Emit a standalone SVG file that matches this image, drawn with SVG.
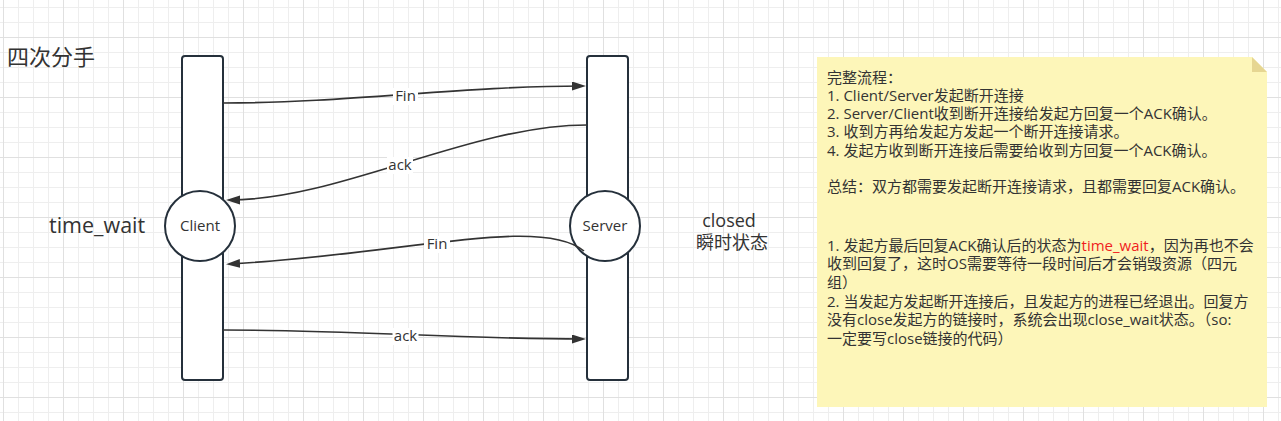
<svg xmlns="http://www.w3.org/2000/svg" width="1281" height="421" viewBox="0 0 1281 421">
  <style>
    .t { font-family: "Open Sans", "Noto Sans CJK SC", sans-serif; fill: #333333; }
    .node { fill: #ffffff; stroke: #25303b; stroke-width: 2; }
    .conn { fill: none; stroke: #333333; stroke-width: 1.6; }
    .lbg { fill: #ffffff; }
    .lbl { font-family: "Open Sans", "Noto Sans CJK SC", sans-serif; font-size: 15px; fill: #333333; text-anchor: middle; }
    .note { font-family: "Open Sans", "Noto Sans CJK SC", sans-serif; font-size: 15px; fill: #333333; }
  </style>
  <defs>
    <pattern id="grid" patternUnits="userSpaceOnUse" x="3" y="37" width="60" height="60">
      <path d="M15.5,0 V60 M30.5,0 V60 M45.5,0 V60 M0,15.5 H60 M0,30.5 H60 M0,45.5 H60" stroke="#eeeeee" stroke-width="1" fill="none"/>
      <path d="M0.5,0 V60 M0,0.5 H60" stroke="#e0e0e0" stroke-width="1" fill="none"/>
    </pattern>
    <marker id="arrow" markerUnits="userSpaceOnUse" markerWidth="14" markerHeight="10" refX="11" refY="4.5" orient="auto">
      <path d="M0,0 L14,4.5 L0,9 Z" fill="#333333"/>
    </marker>
  </defs>

  <rect x="0" y="0" width="1281" height="421" fill="#ffffff"/>
  <rect x="0" y="0" width="1281" height="421" fill="url(#grid)"/>

  <g id="title">
    <text class="t" x="7" y="64.5" font-size="22">四次分手</text>
  </g>

  <g id="client">
    <rect class="node" x="182" y="56" width="41" height="324" rx="3"/>
    <circle class="node" cx="200" cy="226" r="35"/>
    <text class="t" x="200" y="231" font-size="15" text-anchor="middle">Client</text>
  </g>

  <g id="server">
    <rect class="node" x="587" y="56" width="41" height="324" rx="3"/>
    <circle class="node" cx="605" cy="226" r="35"/>
    <text class="t" x="605" y="231" font-size="15" text-anchor="middle">Server</text>
  </g>

  <g id="time_wait_label">
    <text class="t" x="49" y="233" font-size="21.5">time_wait</text>
  </g>

  <g id="closed_label">
    <text class="t" x="729" y="227" font-size="18" text-anchor="middle">closed</text>
    <text class="t" x="732" y="249" font-size="18" text-anchor="middle">瞬时状态</text>
  </g>

  <g id="connectors">
    <path class="conn" d="M223,103 C350,103 460,86 583,86" marker-end="url(#arrow)"/>
    <path class="conn" d="M587,125 C470,125 340,200 229,200" marker-end="url(#arrow)"/>
    <path class="conn" d="M584,251 C540,215 400,255 229,264" marker-end="url(#arrow)"/>
    <path class="conn" d="M223,330 C350,330 460,339 583,339" marker-end="url(#arrow)"/>

    <rect class="lbg" x="393" y="88" width="25" height="17"/>
    <text class="lbl" x="405.5" y="101">Fin</text>
    <rect class="lbg" x="387" y="157" width="26" height="17"/>
    <text class="lbl" x="400" y="169.5">ack</text>
    <rect class="lbg" x="424" y="236" width="26" height="17"/>
    <text class="lbl" x="437" y="248.5">Fin</text>
    <rect class="lbg" x="392.5" y="328" width="26" height="17"/>
    <text class="lbl" x="405.5" y="341">ack</text>
  </g>

  <g id="note">
    <path d="M817,57 H1252 L1267,72 V407 H817 Z" fill="#fdf6b9"/>
    <path d="M1252,57 L1252,72 L1267,72 Z" fill="#e6d692"/>
    <text class="note" x="827" y="82.5">完整流程：</text>
    <text class="note" x="827" y="100.8">1. Client/Server发起断开连接</text>
    <text class="note" x="827" y="119.1">2. Server/Client收到断开连接给发起方回复一个ACK确认。</text>
    <text class="note" x="827" y="137.4">3. 收到方再给发起方发起一个断开连接请求。</text>
    <text class="note" x="827" y="155.7">4. 发起方收到断开连接后需要给收到方回复一个ACK确认。</text>
    <text class="note" x="827" y="192.3">总结：双方都需要发起断开连接请求，且都需要回复ACK确认。</text>
    <text class="note" x="827" y="250.5">1. 发起方最后回复ACK确认后的状态为<tspan fill="#f01e1e">time_wait</tspan>，因为再也不会</text>
    <text class="note" x="827" y="269.2">收到回复了，这时OS需要等待一段时间后才会销毁资源（四元</text>
    <text class="note" x="827" y="287.9">组）</text>
    <text class="note" x="827" y="306.6">2. 当发起方发起断开连接后，且发起方的进程已经退出。回复方</text>
    <text class="note" x="827" y="325.3">没有close发起方的链接时，系统会出现close_wait状态。（so:</text>
    <text class="note" x="827" y="344">一定要写close链接的代码）</text>
  </g>
</svg>
